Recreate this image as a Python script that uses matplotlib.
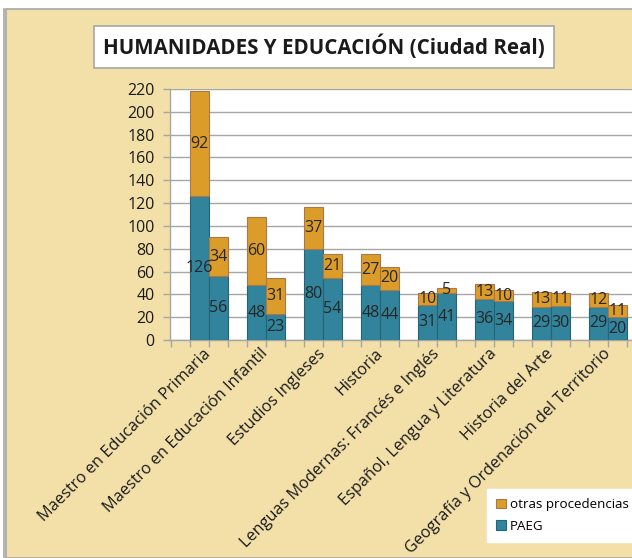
import matplotlib
matplotlib.use("Agg")
import matplotlib.pyplot as plt
from matplotlib.patches import Rectangle
from matplotlib.lines import Line2D
import numpy as np

plt.rcParams['font.family'] = ['Open Sans', 'DejaVu Sans']

# data
carreras = ["Maestro en Educación Primaria", "Maestro en Educación Infantil",
            "Estudios Ingleses", "Historia",
            "Lenguas Modernas: Francés e Inglés", "Español, Lengua y Literatura",
            "Historia del Arte", "Geografía y Ordenación del Territorio"]
paeg_a = [126, 48, 80, 48, 31, 36, 29, 29]
otras_a = [92, 60, 37, 27, 10, 13, 13, 12]
paeg_b = [56, 23, 54, 44, 41, 34, 30, 20]
otras_b = [34, 31, 21, 20, 5, 10, 11, 11]
yticks = list(range(0, 221, 20))

azul = "#31849B"
azul_borde = "#24637A"
naranja = "#DB9C2A"
naranja_borde = "#A9784A"
fondo = "#F3E0A9"

W, H = 632, 558
fig = plt.figure(figsize=(W / 100, H / 100), dpi=100, facecolor="white")

# wheat chart area with grey border
fig.patches.append(Rectangle((6 / W, 0), 1.0, (H - 9) / H, transform=fig.transFigure,
                             facecolor=fondo, edgecolor="#A6A6A6", lw=1.2, zorder=-5))
fig.lines.append(Line2D([3.5 / W, 3.5 / W], [0, (H - 9) / H], transform=fig.transFigure,
                        color="#A6A6A6", lw=1.2, zorder=-5))

left, right, bottom, top = 170, 632, 340, 89
ax = fig.add_axes([left / W, (H - bottom) / H, (right - left) / W, (bottom - top) / H])
ax.set_facecolor("white")

x = np.arange(len(carreras))
w = 1 / 3
xa = x - w / 2
xb = x + w / 2

ax.bar(xa, paeg_a, w, color=azul, edgecolor=azul_borde, lw=0.8, zorder=3)
ax.bar(xa, otras_a, w, bottom=paeg_a, color=naranja, edgecolor=naranja_borde, lw=0.8, zorder=3)
ax.bar(xb, paeg_b, w, color=azul, edgecolor=azul_borde, lw=0.8, zorder=3)
ax.bar(xb, otras_b, w, bottom=paeg_b, color=naranja, edgecolor=naranja_borde, lw=0.8, zorder=3)

lab = dict(ha="center", va="center", fontsize=11.5, color="#262626", zorder=4)
for i in range(len(carreras)):
    ax.text(xa[i], paeg_a[i] / 2, str(paeg_a[i]), **lab)
    ax.text(xa[i], paeg_a[i] + otras_a[i] / 2, str(otras_a[i]), **lab)
    ax.text(xb[i], paeg_b[i] / 2, str(paeg_b[i]), **lab)
    ax.text(xb[i], paeg_b[i] + otras_b[i] / 2, str(otras_b[i]), **lab)

ax.set_ylim(0, 220)
ax.set_yticks(yticks)
ax.set_xlim(-0.684, -0.684 + (right - left) / 57)
ax.set_xticks(np.arange(-2 / 3, 7.5, 1 / 3))
ax.set_xticklabels([])
ax.grid(axis="y", color="#A6A6A6", lw=1, zorder=1)
for s in ["top", "right"]:
    ax.spines[s].set_visible(False)
for s in ["left", "bottom"]:
    ax.spines[s].set_color("#A6A6A6")
    ax.spines[s].set_linewidth(1)
ax.tick_params(axis="both", colors="#A6A6A6", length=5, width=1, labelcolor="#1A1A1A",
               labelsize=11.5)
ax.tick_params(axis="y", pad=6)

for i, c in enumerate(carreras):
    ax.text(x[i] - 0.1, -5, c, rotation=45, ha="right", va="top", rotation_mode="anchor",
            fontsize=11.7, color="#1A1A1A")

# title in white box
fig.text(324 / W, 1 - 47 / H, "HUMANIDADES Y EDUCACIÓN (Ciudad Real)", ha="center", va="center",
         fontsize=14.8, fontweight="bold", color="#1A1A1A",
         bbox=dict(boxstyle="square,pad=0.42", facecolor="white", edgecolor="#A6A6A6", lw=1.2))

# legend
hnd = [Rectangle((0, 0), 1, 1, facecolor=naranja, edgecolor=naranja_borde, lw=0.8),
       Rectangle((0, 0), 1, 1, facecolor=azul, edgecolor=azul_borde, lw=0.8)]
leg = fig.legend(hnd, ["otras procedencias", "PAEG"], loc="upper left",
                 bbox_to_anchor=(487 / W, 1 - 489 / H), frameon=True, fancybox=False,
                 framealpha=1, fontsize=9.6, handlelength=0.7, handleheight=0.7,
                 handletextpad=0.3, labelspacing=0.62, borderpad=0.7, borderaxespad=0)
leg.get_frame().set_facecolor("white")
leg.get_frame().set_edgecolor("white")

fig.savefig("out.png", dpi=100, facecolor="white")
